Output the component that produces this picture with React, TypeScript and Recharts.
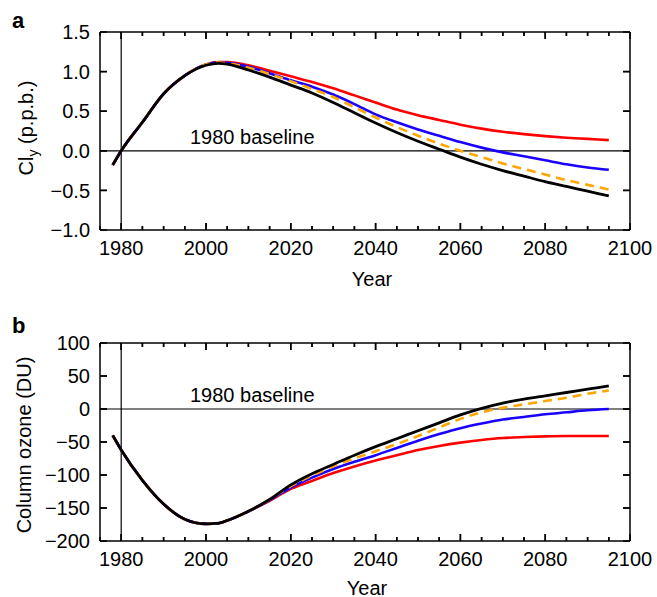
import React from 'react';
import { LineChart, Line, XAxis, YAxis, ReferenceLine } from 'recharts';

// shared year grid
const years = [1978, 1980, 1985, 1990, 1995, 2000, 2003, 2005, 2010, 2015, 2020, 2025, 2030, 2035, 2040, 2045, 2050, 2055, 2060, 2065, 2070, 2075, 2080, 2085, 2090, 2095];

// panel a: Cly anomaly (p.p.b.)
const clyBlack = [-0.18, 0.0, 0.36, 0.72, 0.95, 1.08, 1.105, 1.095, 1.02, 0.93, 0.83, 0.73, 0.61, 0.48, 0.35, 0.23, 0.12, 0.02, -0.08, -0.17, -0.25, -0.32, -0.39, -0.45, -0.51, -0.57];
const clyRed = [-0.18, 0.0, 0.36, 0.72, 0.95, 1.09, 1.12, 1.12, 1.08, 1.01, 0.94, 0.87, 0.79, 0.7, 0.61, 0.52, 0.45, 0.39, 0.33, 0.28, 0.24, 0.21, 0.185, 0.165, 0.15, 0.135];
const clyBlue = [-0.18, 0.0, 0.36, 0.72, 0.95, 1.09, 1.115, 1.11, 1.06, 0.98, 0.89, 0.81, 0.71, 0.59, 0.46, 0.36, 0.27, 0.19, 0.11, 0.04, -0.02, -0.07, -0.12, -0.17, -0.21, -0.24];
const clyOrange = [-0.18, 0.0, 0.36, 0.72, 0.95, 1.09, 1.115, 1.105, 1.05, 0.97, 0.88, 0.78, 0.68, 0.55, 0.42, 0.3, 0.19, 0.09, 0.0, -0.08, -0.16, -0.23, -0.3, -0.37, -0.43, -0.49];

// panel b: column ozone anomaly (DU)
const ozBlack = [-40, -62, -108, -144, -167, -174, -173, -169, -155, -137, -115, -98, -84, -70, -57, -45, -33, -21, -9, 1, 9, 15, 20, 25, 30, 35];
const ozRed = [-40, -62, -108, -144, -167, -174, -173, -169, -155, -139, -121, -109, -97, -87, -78, -70, -62, -56, -51, -47, -44, -42.5, -41.5, -41, -41, -41];
const ozBlue = [-40, -62, -108, -144, -167, -174, -173, -169, -155, -138, -119, -104, -91, -80, -70, -59, -48, -38, -29, -22, -16, -12, -8, -5, -2, 0];
const ozOrange = [-40, -62, -108, -144, -167, -174, -173, -169, -155, -137, -117, -101, -87, -75, -64, -53, -41, -28, -15, -5, 2, 7, 12, 17, 23, 28];

const xDomain = [1975, 2100];
const xTicks = [1975, 1980, 1985, 1990, 1995, 2000, 2005, 2010, 2015, 2020, 2025, 2030, 2035, 2040, 2045, 2050, 2055, 2060, 2065, 2070, 2075, 2080, 2085, 2090, 2095, 2100];
const xLabels = [1980, 2000, 2020, 2040, 2060, 2080, 2100];
const clyDomain = [-1, 1.5];
const clyTicks = [-1, -0.5, 0, 0.5, 1, 1.5];
const ozDomain = [-200, 100];
const ozTicks = [-200, -150, -100, -50, 0, 50, 100];

const dataA = years.map((year, i) => ({
  year,
  red: clyRed[i],
  blue: clyBlue[i],
  orange: clyOrange[i],
  black: clyBlack[i],
}));

const dataB = years.map((year, i) => ({
  year,
  red: ozRed[i],
  blue: ozBlue[i],
  orange: ozOrange[i],
  black: ozBlack[i],
}));

const FONT = '"Liberation Sans", Arial, sans-serif';
const AX = '#000';
const TW = 1.5; // tick stroke width
// plot box size, set by the chart margins / axis sizes below
const PLOT_W = 530;
const PLOT_H = 198;

const fmtMinus = (v: number, digits: number) =>
  (v < 0 ? '\u2212' : '') + Math.abs(v).toFixed(digits);

const tickLen = (v: number) => (xLabels.includes(v) ? 7 : 4);

const bottomTick = (props: any) => {
  const { x, y, payload } = props;
  const major = xLabels.includes(payload.value);
  return (
    <g>
      <line x1={x} x2={x} y1={y} y2={y - tickLen(payload.value)} stroke={AX} strokeWidth={TW} />
      {major && (
        <text x={x} y={y + 25} textAnchor="middle" fontSize={20} fill="#000">
          {payload.value}
        </text>
      )}
    </g>
  );
};

const topTick = (props: any) => {
  const { x, y, payload } = props;
  return (
    <g>
      <line x1={x} x2={x} y1={y} y2={y + tickLen(payload.value)} stroke={AX} strokeWidth={TW} />
    </g>
  );
};

const leftTick = (digits: number) => (props: any) => {
  const { x, y, payload } = props;
  return (
    <g>
      <line x1={x} x2={x + 7} y1={y} y2={y} stroke={AX} strokeWidth={TW} />
      <text x={x - 10} y={y} dy="0.36em" textAnchor="end" fontSize={20} fill="#000">
        {fmtMinus(payload.value, digits)}
      </text>
    </g>
  );
};

const rightTick = (props: any) => {
  const { x, y } = props;
  return (
    <g>
      <line x1={x} x2={x - 7} y1={y} y2={y} stroke={AX} strokeWidth={TW} />
    </g>
  );
};

// inward tick marks on all four sides, drawn as short segments through the chart scales
function tickMarks(yDomain: number[], yTicks: number[]) {
  const [y0, y1] = yDomain;
  const [x0, x1] = xDomain;
  const perPxY = (y1 - y0) / PLOT_H;
  const perPxX = (x1 - x0) / PLOT_W;
  const segs: { x: number; y: number }[][] = [];
  xTicks.filter((t) => t > x0 && t < x1).forEach((t) => {
    const len = tickLen(t) * perPxY;
    segs.push([{ x: t, y: y0 }, { x: t, y: y0 + len }]);
    segs.push([{ x: t, y: y1 }, { x: t, y: y1 - len }]);
  });
  yTicks.filter((v) => v > y0 && v < y1).forEach((v) => {
    const len = 7 * perPxX;
    segs.push([{ x: x0, y: v }, { x: x0 + len, y: v }]);
    segs.push([{ x: x1, y: v }, { x: x1 - len, y: v }]);
  });
  return segs.map((s, i) => (
    <ReferenceLine key={`tick-${i}`} yAxisId="left" xAxisId="bottom" segment={s}
      stroke={AX} strokeWidth={TW} ifOverflow="visible" />
  ));
}

function renderLines() {
  return [
    <Line key="red" yAxisId="left" xAxisId="bottom" type="monotone" dataKey="red" stroke="#ff0000" strokeWidth={2.6} dot={false} isAnimationActive={false} />,
    <Line key="blue" yAxisId="left" xAxisId="bottom" type="monotone" dataKey="blue" stroke="#1a00ff" strokeWidth={2.6} dot={false} isAnimationActive={false} />,
    <Line key="orange" yAxisId="left" xAxisId="bottom" type="monotone" dataKey="orange" stroke="#ffa500" strokeWidth={2.6} strokeDasharray="9 6" dot={false} isAnimationActive={false} />,
    <Line key="black" yAxisId="left" xAxisId="bottom" type="monotone" dataKey="black" stroke="#000000" strokeWidth={2.8} dot={false} isAnimationActive={false} />,
  ];
}

const baselineLabel = (props: any) => {
  const vb = props.viewBox || {};
  return (
    <text x={(vb.x ?? 100) + 90} y={(vb.y ?? 0) - 7} fontSize={20} fill="#000">
      1980 baseline
    </text>
  );
};

function renderAxes(domain: number[], yTicks: number[], digits: number, bottomHeight: number) {
  return [
    <XAxis key="xb" xAxisId="bottom" type="number" dataKey="year" domain={xDomain} ticks={xTicks} interval={0}
      tick={bottomTick} tickLine={false} tickSize={0} tickMargin={0} height={bottomHeight}
      axisLine={{ stroke: AX, strokeWidth: 1.5 }} allowDataOverflow />,
    <XAxis key="xt" xAxisId="top" orientation="top" type="number" dataKey="year" domain={xDomain} ticks={xTicks} interval={0}
      tick={topTick} tickLine={false} tickSize={0} tickMargin={0} height={1}
      axisLine={{ stroke: AX, strokeWidth: 1.5 }} allowDataOverflow />,
    <YAxis key="yl" yAxisId="left" type="number" domain={domain} ticks={yTicks} interval={0}
      tick={leftTick(digits)} tickLine={false} tickSize={0} tickMargin={0} width={100}
      axisLine={{ stroke: AX, strokeWidth: 1.5 }} allowDataOverflow />,
    <YAxis key="yr" yAxisId="right" orientation="right" type="number" domain={domain} ticks={yTicks} interval={0}
      tick={rightTick} tickLine={false} tickSize={0} tickMargin={0} width={1}
      axisLine={{ stroke: AX, strokeWidth: 1.5 }} allowDataOverflow />,
    <ReferenceLine key="v1980" yAxisId="left" xAxisId="bottom" x={1980} stroke={AX} strokeWidth={1.2} />,
    <ReferenceLine key="h0" yAxisId="left" xAxisId="bottom" y={0} stroke={AX} strokeWidth={1.2} label={baselineLabel} />,
    ...tickMarks(domain, yTicks),
  ];
}

export default function App() {
  return (
    <div style={{ position: 'absolute', left: 0, top: 0, width: 657, height: 597, background: '#fff', fontFamily: FONT }}>
      {/* panel letters and axis titles */}
      <svg width={657} height={597} style={{ position: 'absolute', left: 0, top: 0 }} fontFamily={FONT}>
        <text x={12} y={28} fontSize={22} fontWeight="bold" fill="#000">a</text>
        <text x={12} y={333} fontSize={22} fontWeight="bold" fill="#000">b</text>
        <text x={372} y={286} textAnchor="middle" fontSize={20} fill="#000">Year</text>
        <text x={367} y={595} textAnchor="middle" fontSize={20} fill="#000">Year</text>
        <text transform="rotate(-90)" x={-128} y={33} textAnchor="middle" fontSize={20} fill="#000">
          Cl<tspan fontSize={14} dy={5}>y</tspan><tspan dy={-5}> (p.p.b.)</tspan>
        </text>
        <text transform="rotate(-90)" x={-445} y={31} textAnchor="middle" fontSize={20} fill="#000">
          Column ozone (DU)
        </text>
      </svg>

      <div style={{ position: 'absolute', left: 0, top: 0 }}>
        <LineChart width={657} height={300} data={dataA} margin={{ top: 31, right: 26, bottom: 0, left: 0 }}>
          {renderAxes(clyDomain, clyTicks, 1, 70)}
          {renderLines()}
        </LineChart>
      </div>

      <div style={{ position: 'absolute', left: 0, top: 311 }}>
        <LineChart width={657} height={286} data={dataB} margin={{ top: 31, right: 26, bottom: 0, left: 0 }}>
          {renderAxes(ozDomain, ozTicks, 0, 56)}
          {renderLines()}
        </LineChart>
      </div>
    </div>
  );
}
